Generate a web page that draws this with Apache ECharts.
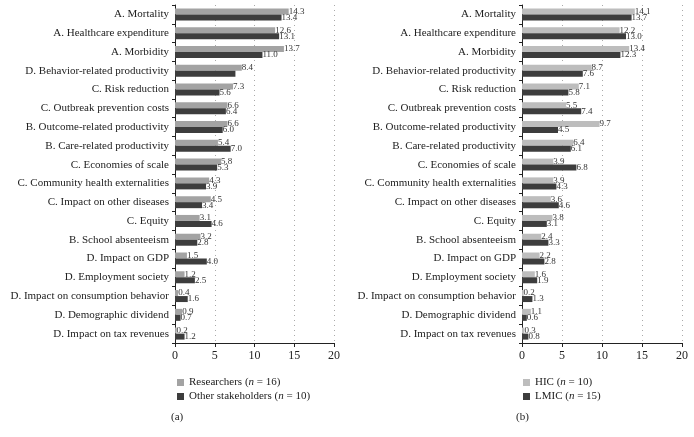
<!DOCTYPE html>
<html><head><meta charset="utf-8">
<script src="https://cdn.jsdelivr.net/npm/echarts@6/dist/echarts.min.js"></script>
<style>html,body{margin:0;padding:0;background:#fff}#c{width:694px;height:437px}</style>
</head><body><div id="c"></div>
<script>
const categories = ["A. Mortality","A. Healthcare expenditure","A. Morbidity","D. Behavior-related productivity","C. Risk reduction","C. Outbreak prevention costs","B. Outcome-related productivity","B. Care-related productivity","C. Economies of scale","C. Community health externalities","C. Impact on other diseases","C. Equity","B. School absenteeism","D. Impact on GDP","D. Employment society","D. Impact on consumption behavior","D. Demographic dividend","D. Impact on tax revenues"];
const researchers = [14.3,12.6,13.7,8.4,7.3,6.6,6.6,5.4,5.8,4.3,4.5,3.1,3.2,1.5,1.2,0.4,0.9,0.2];
const otherStakeholders = [13.4,13.1,11.0,7.6,5.6,6.4,6.0,7.0,5.3,3.9,3.4,4.6,2.8,4.0,2.5,1.6,0.7,1.2];
const hic = [14.1,12.2,13.4,8.7,7.1,5.5,9.7,6.4,3.9,3.9,3.6,3.8,2.4,2.2,1.6,0.2,1.1,0.3];
const lmic = [13.7,13.0,12.3,7.6,5.8,7.4,4.5,6.1,6.8,4.3,4.6,3.1,3.3,2.8,1.9,1.3,0.6,0.8];
const xTicks = [0,5,10,15,20];

const FONT = "Liberation Serif";
const LIGHT_A = "#a3a3a3", LIGHT_B = "#bdbdbd", DARK = "#3d3d3d";
const chart = echarts.init(document.getElementById('c'), null, {renderer:'canvas'});

function xAxis(gi){
  return {gridIndex:gi, type:'value', min:xTicks[0], max:xTicks[xTicks.length-1], interval:5,
    axisLine:{show:true,lineStyle:{color:'#222',width:1}},
    axisTick:{show:true,length:4,lineStyle:{color:'#222'}},
    axisLabel:{color:'#222',fontFamily:FONT,fontSize:12,margin:7},
    splitLine:{show:true,lineStyle:{color:'#aaa',type:[1,4],width:1}}};
}
function yAxis(gi){
  return {gridIndex:gi, type:'category', data:categories, inverse:true,
    axisLine:{show:true,lineStyle:{color:'#222',width:1}},
    axisTick:{show:true,length:3,inside:false,lineStyle:{color:'#222'}},
    axisLabel:{color:'#222',fontFamily:FONT,fontSize:11,margin:6}};
}
function labelCfg(skip){
  return {show:true, position:'right', distance:0, color:'#333', fontFamily:FONT, fontSize:9,
    formatter:p => (skip && skip.includes(p.dataIndex)) ? '' : p.value.toFixed(1)};
}
function bar(name, data, xi, color, skip){
  return {name, type:'bar', xAxisIndex:xi, yAxisIndex:xi, data, barWidth:6, barGap:'0%',
    itemStyle:{color}, label:labelCfg(skip), animation:false};
}
function legendRich(){
  return {a:{fontFamily:FONT,fontSize:11,color:'#222'}, i:{fontFamily:FONT,fontSize:11,color:'#222',fontStyle:'italic'}};
}
chart.setOption({
  animation:false,
  grid:[{left:175,right:360,top:5,bottom:94},{left:522,right:12,top:5,bottom:94}],
  xAxis:[xAxis(0),xAxis(1)],
  yAxis:[yAxis(0),yAxis(1)],
  legend:[
    {data:['Researchers','Other stakeholders'], orient:'vertical', left:172, top:372, itemWidth:7, itemHeight:7, itemGap:3, icon:'rect',
      textStyle:{rich:legendRich()},
      formatter:n => n==='Researchers' ? '{a|Researchers (}{i|n}{a| = 16)}' : '{a|Other stakeholders (}{i|n}{a| = 10)}'},
    {data:['HIC','LMIC'], orient:'vertical', left:518, top:372, itemWidth:7, itemHeight:7, itemGap:3, icon:'rect',
      textStyle:{rich:legendRich()},
      formatter:n => n==='HIC' ? '{a|HIC (}{i|n}{a| = 10)}' : '{a|LMIC (}{i|n}{a| = 15)}'}
  ],
  title:[
    {text:'(a)', left:166, top:407, textStyle:{fontFamily:FONT,fontSize:11,fontWeight:'normal',color:'#222'}},
    {text:'(b)', left:511, top:407, textStyle:{fontFamily:FONT,fontSize:11,fontWeight:'normal',color:'#222'}}
  ],
  series:[
    bar('Researchers', researchers, 0, LIGHT_A),
    bar('Other stakeholders', otherStakeholders, 0, DARK, [3]),
    bar('HIC', hic, 1, LIGHT_B),
    bar('LMIC', lmic, 1, DARK)
  ]
});
</script></body></html>
